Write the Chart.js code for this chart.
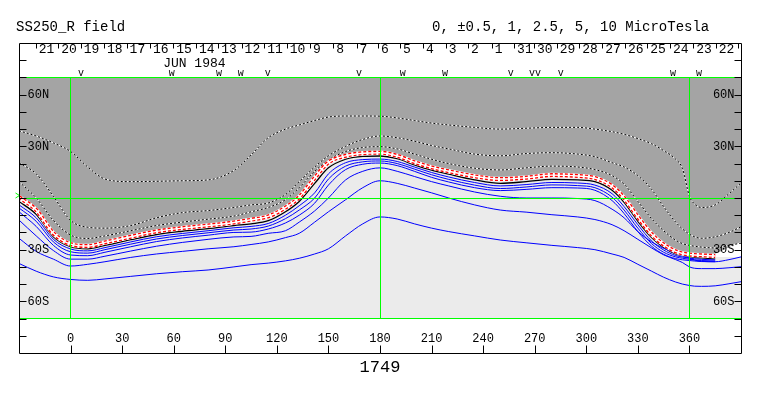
<!DOCTYPE html>
<html><head><meta charset="utf-8">
<script src="https://cdn.jsdelivr.net/npm/chart.js@4.4.0/dist/chart.umd.min.js"></script>
<style>html,body{margin:0;padding:0;background:#fff}canvas{display:block}</style>
</head><body>
<canvas id="c" width="763" height="396"></canvas>
<script>
// ---- data (longitude in degrees, latitude in degrees) ----
const lons     = [-30,-20,-10,0,10,20,35,50,65,80,95,105,115,125,133,142,150,160,170,180,190,200,210,220,235,250,265,280,295,305,315,322,330,338,345,352,356,360,363,367,375,383,390];
const pos3     = [39,36,32,27,18,11,9.5,9.7,10,10.5,16,25,35,40,42.4,45,47,47.6,47.6,47.5,46.5,45,43.5,42.4,41,40,40.5,41,41,40,38.5,37,34.5,31.5,27.5,22.5,17,1,-3.5,-5.5,-4,2.5,8.7];
const pos2     = [20.5,14,1,-13,-17,-17.5,-16,-11.5,-8.5,-7.3,-5.5,-4,-2.9,2,9.5,18,24.5,30,34,36,35,33,30.5,28.5,25.5,24.5,25.8,26.3,25.5,24,20.5,18,13,5,-5,-14,-18,-21,-22.5,-23.4,-22.5,-20,-16.7];
const pos1     = [9.5,0,-13,-21.5,-23.5,-22,-19,-16,-14,-12.3,-10.5,-8,-5.5,-1,6,15.5,22,27,29.3,29.8,28.5,25.5,22.5,20,17.3,16.3,17.5,18.5,18,16.5,13,8,-2,-12,-19,-24.5,-26.5,-27.5,-28,-28.5,-29,-27.5,-26.2];
const neutral  = [0.5,-7,-20.5,-26.8,-27.9,-25.8,-22.5,-19.4,-17.5,-16,-14.2,-12.6,-10.7,-5.6,0.5,11.6,20.6,24.5,26,26.3,24.5,20.8,17.8,15.5,12.6,11,11.8,13.3,12.8,11.6,6.8,0,-11,-21,-27,-31,-32.2,-32.8,-33.1,-33.3,-33.7,-33.7,-33.7];
const negHalf  = [-2,-9.5,-22.5,-28.3,-29.5,-27.5,-24.2,-21.2,-19.3,-17.8,-16,-15,-13.2,-8,-2,8.5,17.5,22.5,24.2,24.4,22.8,19.3,16.2,13.8,10.5,8.5,9.5,10.8,10.5,9.5,4.5,-2.5,-13.5,-23,-28.7,-32.5,-33.5,-34,-34.4,-34.8,-35.3,null,null];
const neg1     = [-4,-11.5,-24,-29.6,-30.7,-28.8,-25.5,-22.5,-20.6,-19,-17.3,-16.5,-14.8,-10,-4.5,3,14,20.5,22.3,22.6,21.2,18,14.8,12.2,9,7,7.8,9,8.7,7.5,2.5,-5,-15.5,-25,-30.2,-33.4,-34.3,-34.9,-35.3,-35.6,-36,null,null];
const neg2     = [-5.8,-13.5,-25.5,-31.2,-32,-30,-26.8,-23.8,-21.8,-20.2,-18.6,-18,-16.3,-12,-7,0,11,18.5,21,21.5,20,16.8,13.5,10.8,7.5,5.5,6.4,7.6,7.2,6,0.5,-7,-17.5,-26.5,-31.5,-34.2,-35,-35.6,-36,-36.3,-36.6,null,null];
const neg3     = [-8,-16.5,-27.5,-33.1,-33.5,-31.5,-28.3,-25.3,-23.2,-21.6,-20,-19.8,-18,-14.5,-10,-3,7.5,16.5,19.6,20.3,18.8,15.5,12,9.3,6,4.3,5,6,5.8,4.5,-1.5,-9,-19.5,-28,-32.7,-35.2,-35.9,-36.3,-36.6,-36.9,-37,null,null];
const neg4     = [-12.8,-22,-30.5,-35.5,-35.5,-33.8,-30.8,-28,-25.8,-24,-22.6,-22.3,-20.5,-19,-14,-7.5,0,10.5,15.5,17.5,15.5,12.5,9.5,7,3.5,1,0,0,-0.3,-1.5,-6.5,-11.5,-19.5,-25.5,-29.2,-32,-33.5,-35,-36,-36.8,-37,-35.8,-34.2];
const neg5     = [-23.4,-31,-35.5,-39.5,-38.5,-37,-34.5,-32.5,-31,-29.5,-28.3,-27,-25.5,-23,-20.5,-14,-8,-1,6,10,8.5,5.8,3,0,-4,-7,-8.2,-9.7,-11,-12.5,-15.5,-19,-24,-29,-33,-35.8,-37.5,-40,-40.8,-41,-41,-40.5,-39.9];
const neg6     = [-38,-42.5,-45.8,-47.3,-47.8,-47,-45.5,-44,-42.8,-41.8,-40,-38.7,-37.8,-36.5,-35,-32.5,-29.5,-22,-15,-11,-12.2,-15,-17.5,-19.5,-22,-24.4,-26,-27.5,-28.8,-30,-32.5,-34.5,-38.5,-42.5,-46,-48.8,-50,-50.8,-51.2,-51.3,-51,-49.8,-48.6];
// small blank (no data) wedge at the right edge: its upper edge, filled down to gapFloor
const gapLons  = [371,378,384,390];
const gapTop   = [-34,-31,-28,-25.5];
const gapFloor = -34.2;

const xTickValues = [0,30,60,90,120,150,180,210,240,270,300,330,360];
const xTickLabels = ['0','30','60','90','120','150','180','210','240','270','300','330','360'];
const yTickValues = [60,30,-30,-60];
const yLabels     = ['60N','30N','30S','60S'];
const yMinorTicks = [-80,-70,-60,-50,-40,-30,-20,-10,0,10,20,30,40,50,60,70,80];
const dayLabels   = ['21','20','19','18','17','16','15','14','13','12','11','10','9','8','7','6','5','4','3','2','1','31','30','29','28','27','26','25','24','23','22'];
const dayTickLons = [-20.3,-7.2,5.9,19.4,32.6,46.2,59.7,72.9,85.9,99.5,112.7,125.7,139.3,152.8,166.4,178.8,191.7,205,218.2,231.2,245,258,269.6,282.8,295.9,309.3,322.5,335.5,348.7,362.2,375.3,388.4];
const markerLons   = [6,58.8,86.3,99,114.7,167.8,193.2,217.8,256,270.2,285.1,350.4,365.5];
const markerGlyphs = ['v','w','w','w','v','v','w','w','v','vv','v','w','w'];
const monthLabel = 'JUN 1984';
const monthLon = 72;
const titleLeft = 'SS250_R field';
const titleRight = '0, \u00B10.5, 1, 2.5, 5, 10 MicroTesla';
const rotationLabel = '1749';
const rotationLon = 180;

// ---- chart ----
const pts = (arr, xs) => (xs || lons).map((x,i)=>({x:x,y:arr[i]})).filter(p=>p.y!==null && p.y!==undefined);
const FONT = '"Liberation Mono", "DejaVu Sans Mono", monospace';

function line(data, color, opts) {
  return Object.assign({
    data: pts(data), borderColor: color, borderWidth: 1, pointRadius: 0, fill: false,
    cubicInterpolationMode: 'monotone', order: 10
  }, opts || {});
}
const neutralDrawn = neutral.map((v,i)=> lons[i] <= 375 ? v : null);

const datasets = [
  // polarity fills
  {data: pts(neutral), borderWidth: 0, pointRadius: 0, fill: {value: 70}, backgroundColor: '#a4a4a4', order: 100, cubicInterpolationMode:'monotone'},
  {data: pts(neutral), borderWidth: 0, pointRadius: 0, fill: {value: -70}, backgroundColor: '#ebebeb', order: 99, cubicInterpolationMode:'monotone'},
  {data: pts(gapTop, gapLons), borderWidth: 0, pointRadius: 0, fill: {value: gapFloor}, backgroundColor: '#ffffff', order: 97},
  // positive contours (dotted black/white)
  line(pos3, '#ffffff', {order: 20}), line(pos3, '#000000', {borderDash:[2,2], order: 19}),
  line(pos2, '#ffffff', {order: 20}), line(pos2, '#000000', {borderDash:[2,2], order: 19}),
  line(pos1, '#ffffff', {order: 20}), line(pos1, '#000000', {borderDash:[2,2], order: 19}),
  // negative contours
  line(neg6, '#0000ff'), line(neg5, '#0000ff'), line(neg4, '#0000ff'),
  line(neg3, '#0000ff'), line(neg2, '#0000ff'), line(neg1, '#0000ff'),
  line(negHalf, '#000000', {borderWidth: 1.3}),
  // neutral line: two rows of red dashes with white between
  line(neutralDrawn, '#ffffff', {borderWidth: 4.5, order: 6}),
  line(neutralDrawn, '#ff0000', {borderWidth: 4, borderDash:[3,2], order: 5}),
  line(neutralDrawn, '#ffffff', {borderWidth: 1.4, order: 4}),
];

const overlay = {
  id: 'overlay',
  afterDatasetsDraw(chart) {
    const {ctx, scales:{x, y}} = chart;
    ctx.save();
    ctx.fillStyle = '#00ff00';
    const x0 = Math.round(x.getPixelForValue(-30)), x1 = Math.round(x.getPixelForValue(390));
    const yt = Math.floor(y.getPixelForValue(70)), yb = Math.floor(y.getPixelForValue(-70));
    [70, 0, -70].forEach(l => ctx.fillRect(x0, Math.floor(y.getPixelForValue(l)), x1 - x0, 1));
    [0, 180, 360].forEach(l => ctx.fillRect(Math.floor(x.getPixelForValue(l)), yt, 1, yb - yt + 1));
    // small equator marker on the left frame
    const ye = Math.floor(y.getPixelForValue(0));
    ctx.strokeStyle = '#00ff00'; ctx.lineWidth = 1;
    ctx.beginPath();
    ctx.moveTo(x0 - 3.5, ye - 5); ctx.lineTo(x0 + 0.5, ye - 2.5); ctx.lineTo(x0 - 3.5, ye);
    ctx.stroke();
    ctx.restore();
  },
  afterDraw(chart) {
    const {ctx, scales:{x, y}} = chart;
    const X = v => Math.round(x.getPixelForValue(v)) + 0.5;
    const Y = v => Math.round(y.getPixelForValue(v)) + 0.5;
    const L = X(-30), R = X(390), T = Y(90), B = Y(-90);
    ctx.save();
    ctx.strokeStyle = '#000'; ctx.lineWidth = 1;
    ctx.beginPath();
    ctx.rect(L, T, R - L, B - T);
    yMinorTicks.forEach(l => {
      ctx.moveTo(L, Y(l)); ctx.lineTo(L + 7, Y(l));
      ctx.moveTo(R, Y(l)); ctx.lineTo(R - 7, Y(l));
    });
    xTickValues.forEach(v => { ctx.moveTo(X(v), B); ctx.lineTo(X(v), B - 8); });
    dayTickLons.forEach(v => { ctx.moveTo(X(v), T); ctx.lineTo(X(v), T + 5); });
    ctx.stroke();

    ctx.fillStyle = '#000';
    ctx.textBaseline = 'middle';
    ctx.font = '12px ' + FONT;
    ctx.textAlign = 'left';
    yTickValues.forEach((v,i) => ctx.fillText(yLabels[i], L + 8, y.getPixelForValue(v) + 0.5));
    ctx.textAlign = 'right';
    yTickValues.forEach((v,i) => ctx.fillText(yLabels[i], R - 7, y.getPixelForValue(v) + 0.5));
    ctx.textAlign = 'center';
    xTickValues.forEach((v,i) => ctx.fillText(xTickLabels[i], x.getPixelForValue(v), B - 15));

    ctx.font = '13px ' + FONT;
    ctx.textAlign = 'left';
    dayLabels.forEach((d,i) => ctx.fillText(d, x.getPixelForValue(dayTickLons[i]) + 3, T + 6.5));
    ctx.textAlign = 'center';
    ctx.fillText(monthLabel, x.getPixelForValue(monthLon), T + 20);

    ctx.font = '10px ' + FONT;
    ctx.textBaseline = 'alphabetic';
    markerLons.forEach((v,i) => ctx.fillText(markerGlyphs[i], x.getPixelForValue(v), Y(70) - 1.5));

    ctx.textBaseline = 'middle';
    ctx.font = '14px ' + FONT;
    ctx.textAlign = 'left';
    ctx.fillText(titleLeft, 16, 27);
    ctx.fillText(titleRight, 432, 27);
    ctx.font = '17px ' + FONT;
    ctx.textAlign = 'center';
    ctx.fillText(rotationLabel, x.getPixelForValue(rotationLon), 367);
    ctx.restore();
  }
};

new Chart(document.getElementById('c'), {
  type: 'line',
  data: { datasets },
  options: {
    responsive: false, animation: false, devicePixelRatio: 1,
    layout: { padding: { left: 19, right: 22, top: 43, bottom: 43 } },
    plugins: { legend: {display:false}, tooltip: {enabled:false}, filler: {drawTime: 'beforeDatasetsDraw'} },
    scales: {
      x: { type: 'linear', min: -30, max: 390, display: false },
      y: { type: 'linear', min: -90, max: 90, display: false }
    },
    elements: { line: { borderCapStyle: 'butt' } }
  },
  plugins: [overlay]
});
</script>
</body></html>
